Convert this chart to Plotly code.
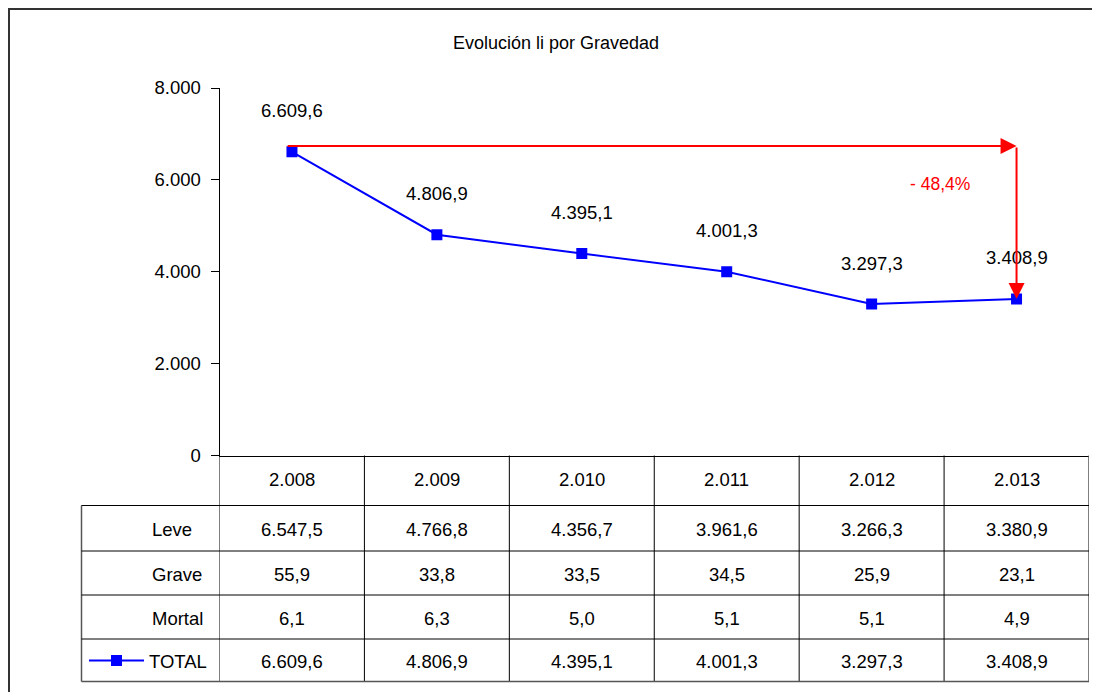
import plotly.graph_objects as go

# data
years = ['2.008', '2.009', '2.010', '2.011', '2.012', '2.013']
leve = [6547.5, 4766.8, 4356.7, 3961.6, 3266.3, 3380.9]
grave = [55.9, 33.8, 33.5, 34.5, 25.9, 23.1]
mortal = [6.1, 6.3, 5.0, 5.1, 5.1, 4.9]
total = [6609.6, 4806.9, 4395.1, 4001.3, 3297.3, 3408.9]
row_names = ['Leve', 'Grave', 'Mortal']
y_ticks = [0, 2000, 4000, 6000, 8000]

# figure sized so that it fits the window together with the page's 8px body margin
PAGE_MARGIN = 8
W, H = 1100 - 2 * PAGE_MARGIN, 700 - 2 * PAGE_MARGIN
FONT = 'Liberation Sans, Arial, sans-serif'
BLUE = '#0000FF'
RED = '#FF0000'
FS = 18.5


def px_x(p):
    # screen pixel -> paper x
    return (p - PAGE_MARGIN) / W


def px_y(p):
    # screen pixel -> paper y
    return (H - (p - PAGE_MARGIN)) / H


def es(v, dec=1):
    # spanish number format: 6.609,6
    s = f'{v:,.{dec}f}'
    return s.replace(',', 'X').replace('.', ',').replace('X', '.')


idx = list(range(len(years)))

fig = go.Figure()

fig.add_trace(go.Scatter(
    x=idx,
    y=total,
    name='TOTAL',
    mode='lines+markers',
    line=dict(color=BLUE, width=2),
    marker=dict(color=BLUE, symbol='square', size=11),
))

annotations = []

# point labels
for i, v in zip(idx, total):
    annotations.append(dict(
        x=i, y=v, xref='x', yref='y', text=es(v), showarrow=False,
        yshift=41, xanchor='center', yanchor='middle',
        font=dict(size=FS, color='black'),
    ))

# title
annotations.append(dict(
    x=px_x(556), y=px_y(43), xref='paper', yref='paper',
    xanchor='center', yanchor='middle',
    text='Evolución li por Gravedad', showarrow=False,
    font=dict(size=18, color='black'),
))

# red arrows: 2008 -> 2013 and down to 2013 value
arrow_y = total[0] + 130
annotations.append(dict(
    x=idx[-1], y=arrow_y, ax=-0.04, ay=arrow_y, xref='x', yref='y',
    axref='x', ayref='y', text='', showarrow=True, arrowhead=2,
    arrowsize=1.6, arrowwidth=2, arrowcolor=RED, standoff=0,
))
annotations.append(dict(
    x=idx[-1], y=total[-1], ax=idx[-1], ay=arrow_y, xref='x', yref='y',
    axref='x', ayref='y', text='', showarrow=True, arrowhead=2,
    arrowsize=1.6, arrowwidth=2, arrowcolor=RED, standoff=0,
))
pct = (total[-1] - total[0]) / total[0] * 100
annotations.append(dict(
    x=4.47, y=5900, xref='x', yref='y', xanchor='center', yanchor='middle',
    text=f'- {es(abs(pct))}%', showarrow=False,
    font=dict(size=17.5, color=RED),
))

# data table
row_edges = [455.5, 505.5, 551, 595, 639, 681.5]
row_centers = [479, 529, 574, 618, 661]

for i, yr in enumerate(years):
    annotations.append(dict(
        x=i, y=px_y(row_centers[0]), xref='x', yref='paper', text=yr,
        xanchor='center', yanchor='middle',
        showarrow=False, font=dict(size=FS, color='black'),
    ))

for r, (name, vals) in enumerate(zip(row_names + ['TOTAL'], [leve, grave, mortal, total])):
    yc = px_y(row_centers[r + 1])
    if name != 'TOTAL':
        annotations.append(dict(
            x=px_x(150), y=yc, xref='paper', yref='paper', text=name,
            xanchor='left', yanchor='middle',
            showarrow=False, font=dict(size=FS, color='black'),
        ))
    for i, v in zip(idx, vals):
        annotations.append(dict(
            x=i, y=yc, xref='x', yref='paper', text=es(v),
            xanchor='center', yanchor='middle',
            showarrow=False, font=dict(size=FS, color='black'),
        ))

shapes = []
line_k = dict(color='black', width=1)
edge = dict(color='#555555', width=1.5)
# vertical grid lines of the table
for i in range(len(years) + 1):
    shapes.append(dict(
        type='line', xref='x', yref='paper', x0=i - 0.5, x1=i - 0.5,
        y0=px_y(row_edges[0]), y1=px_y(row_edges[-1]),
        line=edge if i == len(years) else line_k,
    ))
shapes.append(dict(
    type='line', xref='paper', yref='paper', x0=px_x(81.5), x1=px_x(81.5),
    y0=px_y(row_edges[1]), y1=px_y(row_edges[-1]), line=edge,
))
# horizontal lines
for j, e in enumerate(row_edges[1:]):
    last = j == len(row_edges) - 2
    shapes.append(dict(
        type='line', xref='paper', yref='paper', x0=px_x(81.5), x1=px_x(1089),
        y0=px_y(e), y1=px_y(e), line=edge if last else line_k,
    ))
# outer frame (only the top and left sides fall inside the window)
shapes.append(dict(
    type='rect', xref='paper', yref='paper', x0=px_x(9), x1=px_x(1120),
    y0=px_y(720), y1=px_y(9), line=dict(color='#333333', width=2),
))

fig.update_layout(
    width=W,
    height=H,
    margin=dict(l=0, r=0, t=0, b=0, autoexpand=False),
    paper_bgcolor='white',
    plot_bgcolor='white',
    font=dict(family=FONT, size=FS, color='black'),
    separators=',.',
    showlegend=True,
    legend=dict(
        x=px_x(84), y=px_y(661), xanchor='left', yanchor='middle',
        bgcolor='rgba(0,0,0,0)', font=dict(size=FS, color='black'),
        itemwidth=55,
    ),
    xaxis=dict(
        domain=[px_x(219.5), px_x(1089)],
        range=[-0.5, 5.5],
        showticklabels=False,
        ticks='',
        showgrid=False,
        zeroline=False,
        showline=True,
        linecolor='black',
        linewidth=1,
        automargin=False,
    ),
    yaxis=dict(
        domain=[px_y(455.5), px_y(88)],
        range=[0, 8000],
        tickvals=y_ticks,
        tickformat=',d',
        ticks='outside',
        ticklen=8,
        tickcolor='black',
        ticklabelstandoff=6,
        showgrid=False,
        zeroline=False,
        showline=True,
        linecolor='black',
        linewidth=1,
        automargin=False,
        tickfont=dict(size=FS, color='black'),
    ),
    annotations=annotations,
    shapes=shapes,
)

fig.write_html('out.html')
